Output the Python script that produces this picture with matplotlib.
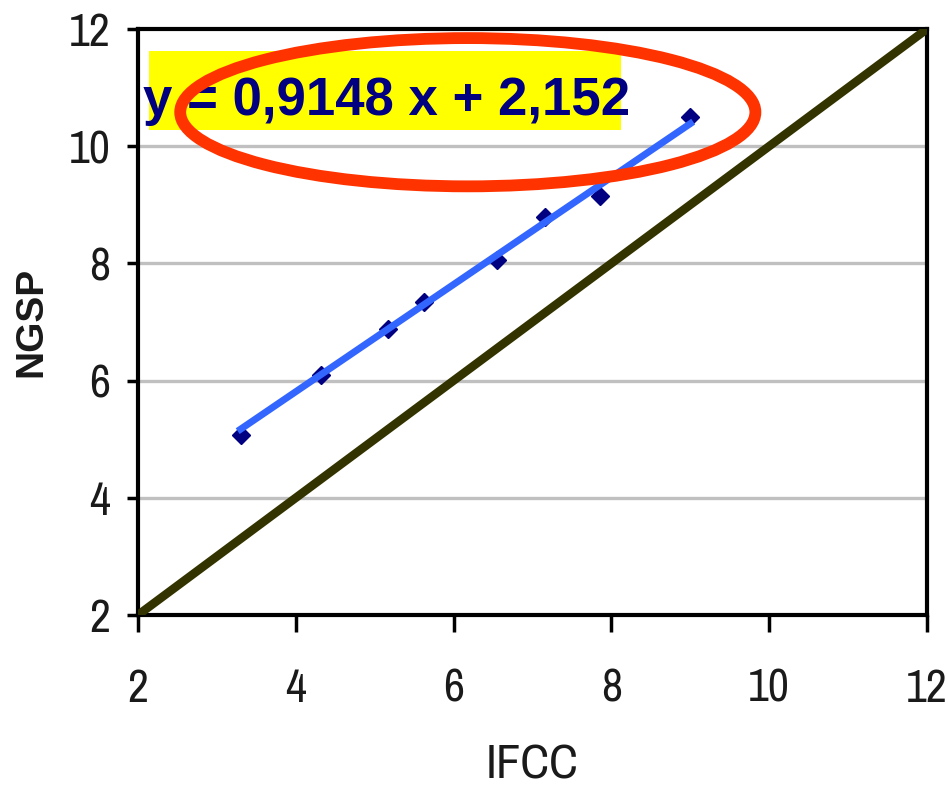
import matplotlib
matplotlib.use("Agg")
import matplotlib.pyplot as plt
from matplotlib.patches import Ellipse, Rectangle
from matplotlib import font_manager
import numpy as np

# Data
ifcc = [3.30, 4.32, 5.17, 5.62, 6.55, 7.16, 7.85, 9.00]
ngsp = [5.07, 6.09, 6.88, 7.34, 8.05, 8.80, 9.15, 10.50]
slope = 0.9148
intercept = 2.152
ticks = [2, 4, 6, 8, 10, 12]
equation = "y = 0,9148 x + 2,152"

# look for a condensed sans face, else fall back to Liberation Sans
narrow = None
for f in font_manager.fontManager.ttflist:
    n = f.name
    if ("Narrow" in n or "Condensed" in n) and "Mono" not in n and "Serif" not in n:
        narrow = n
        break
if narrow is None:
    narrow = "Liberation Sans"
    tick_fs = 29
    xlab_fs = 31
else:
    tick_fs = 33
    xlab_fs = 35

fig = plt.figure(figsize=(9.48, 7.88), dpi=100)
ax = fig.add_axes([138/948, 1-615/788, (927-138)/948, (615-29)/788])

ax.set_xlim(2, 12)
ax.set_ylim(2, 12)

# gridlines
for t in ticks[1:-1]:
    ax.axhline(t, color="#C0C0C0", lw=2.4, zorder=1)

# identity line
ax.plot([2, 12], [2, 12], color="#333300", lw=6.2, zorder=3, solid_capstyle="butt")

# points and trend line
ax.plot(ifcc, ngsp, linestyle="none", marker="D", color="#000080", ms=9.5, zorder=4)
xs = np.array([min(ifcc), max(ifcc)])
ax.plot(xs, slope*xs + intercept, color="#3366FF", lw=5, zorder=5)

# frame
for s in ax.spines.values():
    s.set_linewidth(3)
    s.set_color("black")

ax.set_xticks(ticks)
ax.set_yticks(ticks)
ax.tick_params(axis="x", length=12, width=2.5, pad=26, labelsize=tick_fs, labelcolor="#1a1a1a")
ax.tick_params(axis="y", length=8, width=2.5, pad=12, labelsize=tick_fs, labelcolor="#1a1a1a")
for lab in ax.get_xticklabels() + ax.get_yticklabels():
    lab.set_family(narrow)

ax.set_xlabel("IFCC", fontsize=xlab_fs, family=narrow, color="#1a1a1a", labelpad=24)
ax.set_ylabel("NGSP", fontsize=28, fontweight="bold", family="Liberation Sans", color="#1a1a1a", labelpad=14)

# yellow highlight box and equation
ax.add_patch(Rectangle((0.014, 0.828), 0.598, 0.134, transform=ax.transAxes,
                       facecolor="#FFFF00", edgecolor="none", zorder=6, clip_on=False))
ax.text(0.006, 0.853, equation, transform=ax.transAxes, fontsize=38, fontweight="bold",
        family="Liberation Sans", color="#000080", va="baseline", ha="left", zorder=7)

# red ellipse
ax.add_patch(Ellipse((0.418, 0.858), 0.729, 0.253, transform=ax.transAxes, fill=False,
                     edgecolor="#FF3300", lw=8.5, zorder=8, clip_on=False))

fig.savefig("out.png", dpi=100)
